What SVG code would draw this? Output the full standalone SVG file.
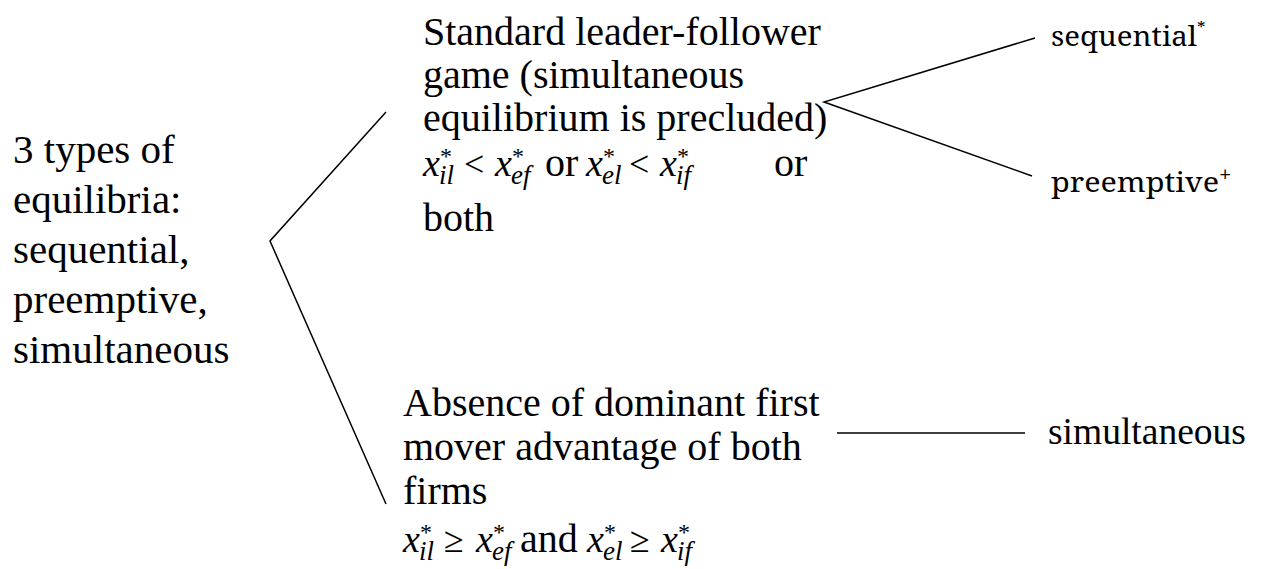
<svg xmlns="http://www.w3.org/2000/svg" width="1267" height="569" viewBox="0 0 1267 569">
<rect width="1267" height="569" fill="#fff"/>
<g id="connectors" stroke="#000" stroke-width="1.5" fill="none">
<polyline points="386,112 270,241 386,504"/>
<polyline points="1035,38 824,102 1032,176"/>
<line x1="837" y1="433" x2="1025" y2="433"/>
</g>
<g id="root">
<text x="13" y="163" font-family="Liberation Serif" font-size="41">3 types of</text>
<text x="13" y="213" font-family="Liberation Serif" font-size="41">equilibria:</text>
<text x="13" y="263" font-family="Liberation Serif" font-size="41">sequential,</text>
<text x="13" y="313" font-family="Liberation Serif" font-size="41">preemptive,</text>
<text x="13" y="363" font-family="Liberation Serif" font-size="41">simultaneous</text>
</g>
<g id="leader-follower">
<text x="423" y="45" font-family="Liberation Serif" font-size="40">Standard leader-follower</text>
<text x="423" y="88" font-family="Liberation Serif" font-size="40">game (simultaneous</text>
<text x="423" y="131" font-family="Liberation Serif" font-size="40">equilibrium is precluded)</text>
<text x="545" y="176" font-family="Liberation Serif" font-size="40">or</text>
<text x="774" y="176" font-family="Liberation Serif" font-size="40">or</text>
<text x="423" y="231" font-family="Liberation Serif" font-size="40">both</text>
<text x="423" y="176" font-family="Liberation Serif" font-style="italic" font-size="38">x</text>
<text x="495" y="176" font-family="Liberation Serif" font-style="italic" font-size="38">x</text>
<text x="586" y="176" font-family="Liberation Serif" font-style="italic" font-size="38">x</text>
<text x="660" y="176" font-family="Liberation Serif" font-style="italic" font-size="38">x</text>
<text x="439" y="184" font-family="Liberation Serif" font-style="italic" font-size="27">il</text>
<text x="511" y="184" font-family="Liberation Serif" font-style="italic" font-size="27">ef</text>
<text x="602" y="184" font-family="Liberation Serif" font-style="italic" font-size="27">el</text>
<text x="676" y="184" font-family="Liberation Serif" font-style="italic" font-size="27">if</text>
<text x="440" y="164" font-family="Liberation Serif" font-size="24">*</text>
<text x="512" y="164" font-family="Liberation Serif" font-size="24">*</text>
<text x="603" y="164" font-family="Liberation Serif" font-size="24">*</text>
<text x="677" y="164" font-family="Liberation Serif" font-size="24">*</text>
<text x="464" y="176" font-family="Liberation Serif" font-size="36">&lt;</text>
<text x="629" y="176" font-family="Liberation Serif" font-size="36">&lt;</text>
</g>
<g id="no-first-mover">
<text x="403" y="416" font-family="Liberation Serif" font-size="40">Absence of dominant first</text>
<text x="403" y="460" font-family="Liberation Serif" font-size="40">mover advantage of both</text>
<text x="403" y="504" font-family="Liberation Serif" font-size="40">firms</text>
<text x="520" y="552" font-family="Liberation Serif" font-size="40">and</text>
<text x="403" y="552" font-family="Liberation Serif" font-style="italic" font-size="38">x</text>
<text x="476" y="552" font-family="Liberation Serif" font-style="italic" font-size="38">x</text>
<text x="587" y="552" font-family="Liberation Serif" font-style="italic" font-size="38">x</text>
<text x="661" y="552" font-family="Liberation Serif" font-style="italic" font-size="38">x</text>
<text x="419" y="560" font-family="Liberation Serif" font-style="italic" font-size="27">il</text>
<text x="492" y="560" font-family="Liberation Serif" font-style="italic" font-size="27">ef</text>
<text x="603" y="560" font-family="Liberation Serif" font-style="italic" font-size="27">el</text>
<text x="677" y="560" font-family="Liberation Serif" font-style="italic" font-size="27">if</text>
<text x="420" y="540" font-family="Liberation Serif" font-size="24">*</text>
<text x="493" y="540" font-family="Liberation Serif" font-size="24">*</text>
<text x="604" y="540" font-family="Liberation Serif" font-size="24">*</text>
<text x="678" y="540" font-family="Liberation Serif" font-size="24">*</text>
<text x="444" y="552" font-family="Liberation Serif" font-size="36">≥</text>
<text x="630" y="552" font-family="Liberation Serif" font-size="36">≥</text>
</g>
<g id="sequential">
<text x="1051" y="46" font-family="Noto Serif" font-size="28"><tspan textLength="146" lengthAdjust="spacingAndGlyphs">sequential</tspan><tspan font-size="17" dy="-12">*</tspan></text>
</g>
<g id="preemptive">
<text x="1051" y="192" font-family="Noto Serif" font-size="28"><tspan textLength="168" lengthAdjust="spacingAndGlyphs">preemptive</tspan><tspan font-size="22" dy="-10">+</tspan></text>
</g>
<g id="simultaneous">
<text x="1048" y="444" font-family="Liberation Serif" font-size="37.5">simultaneous</text>
</g>
</svg>
